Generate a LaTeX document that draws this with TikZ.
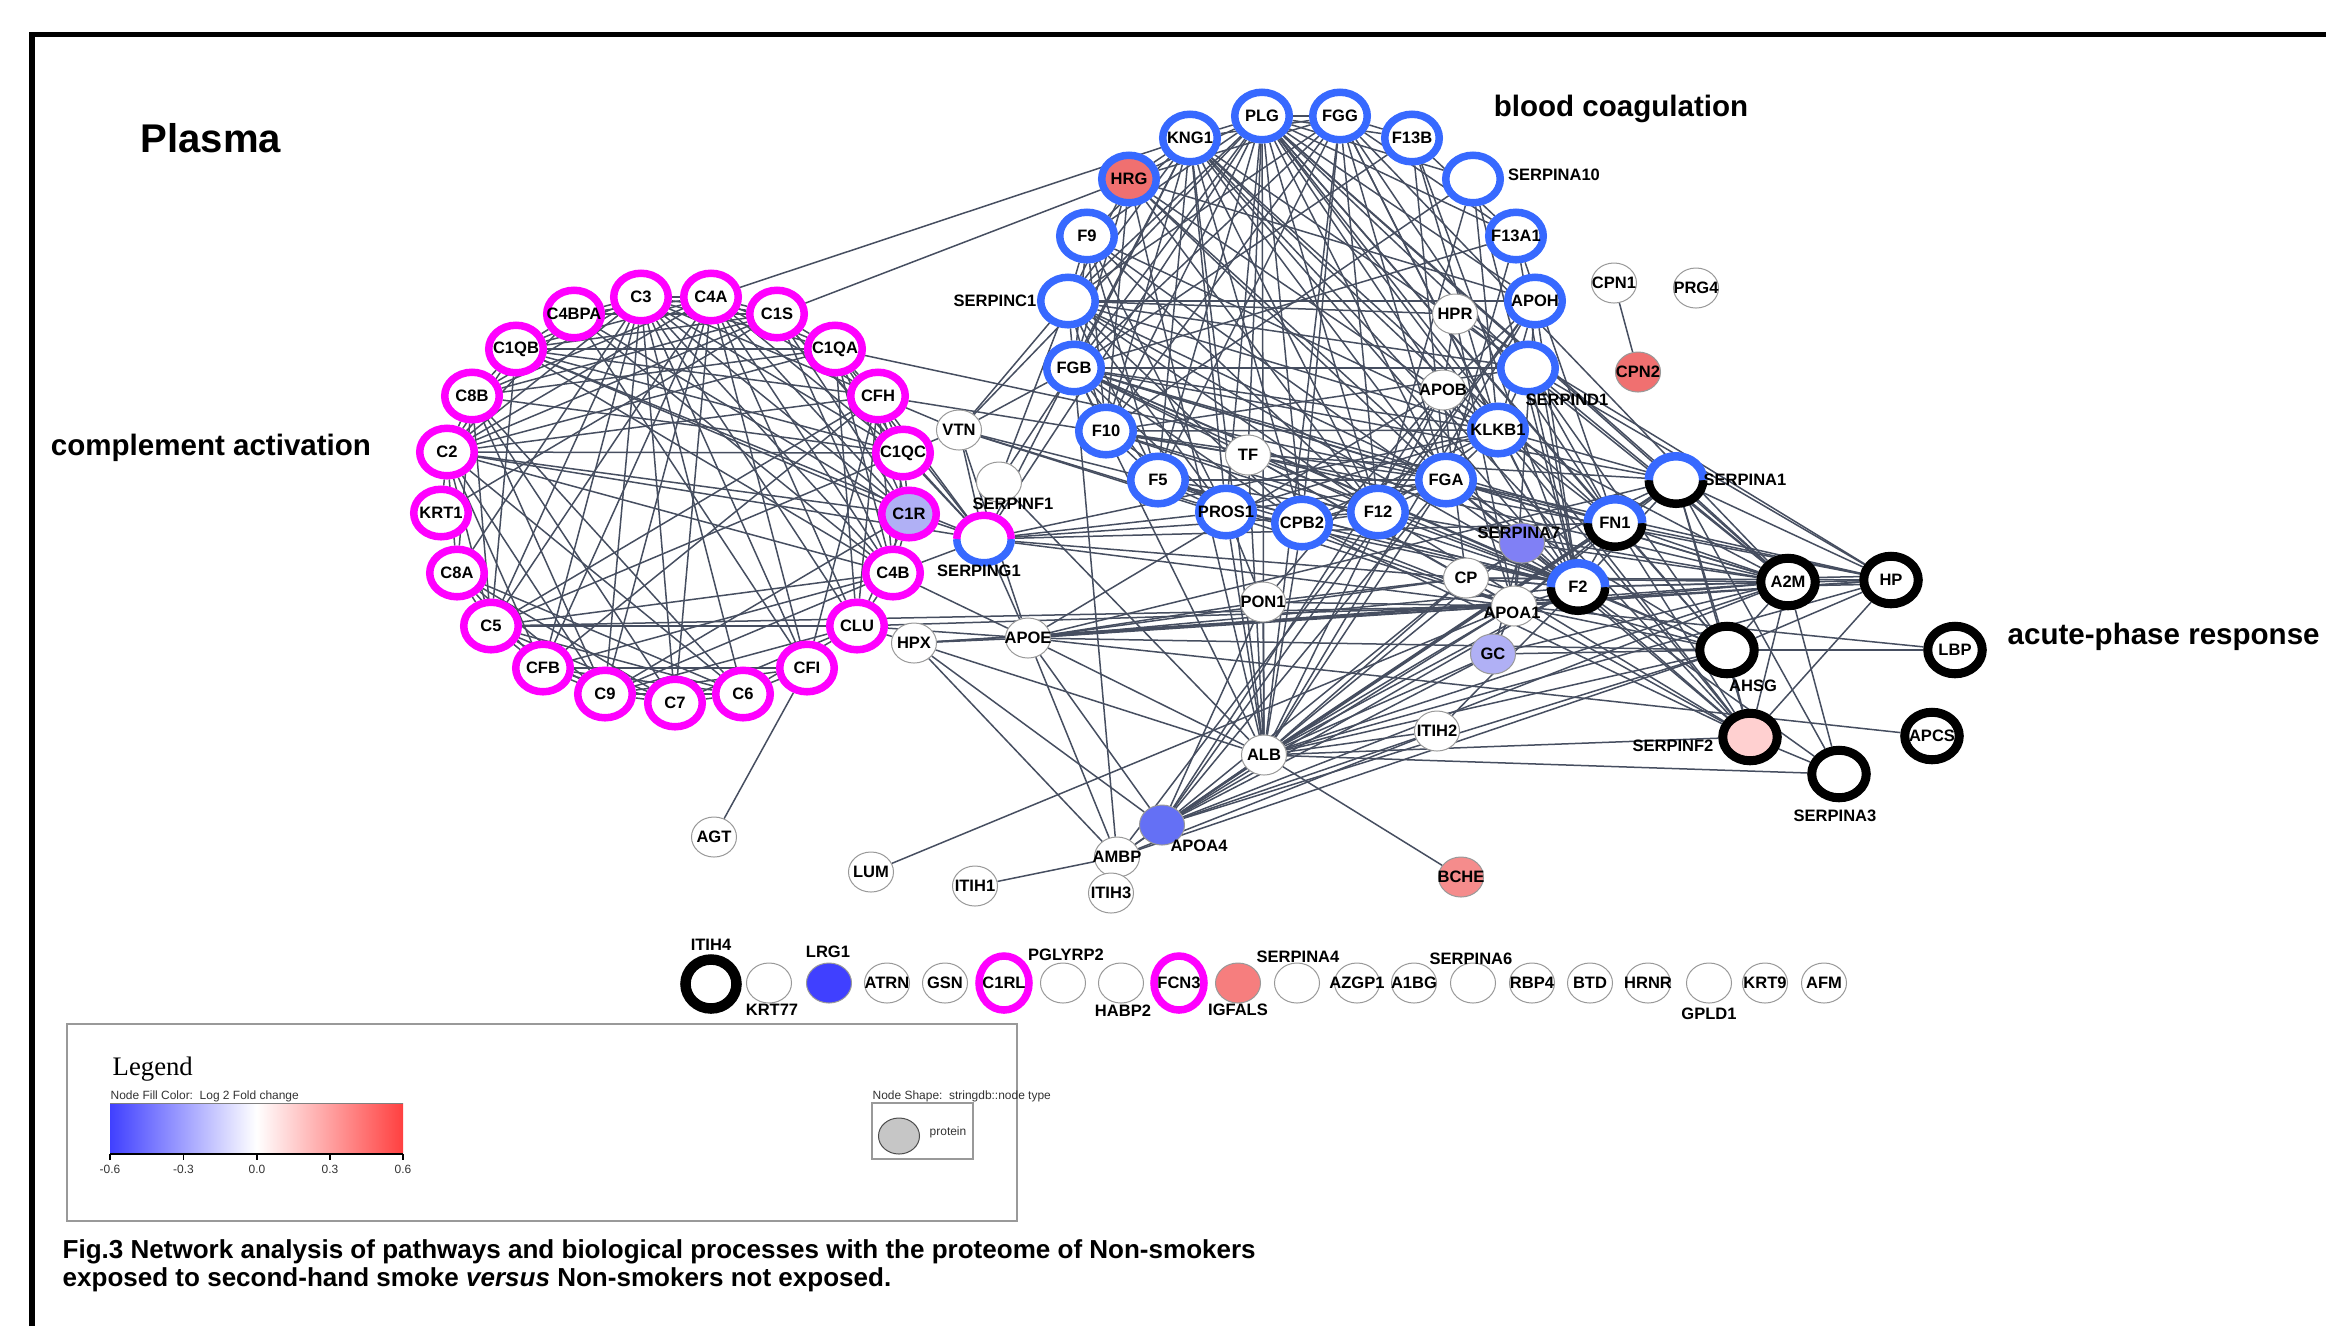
\documentclass[tikz,border=0pt]{standalone}
\usepackage{fontspec}
\setmainfont{Liberation Sans}
\newfontfamily\legendfont{Liberation Serif}
\usetikzlibrary{shapes.geometric}
\definecolor{complcol}{RGB}{255,0,255}
\definecolor{coagcol}{RGB}{55,105,255}
\definecolor{edgecol}{RGB}{70,78,96}
\definecolor{lgblue}{RGB}{64,64,255}
\definecolor{lgred}{RGB}{255,64,64}
\definecolor{upred}{RGB}{240,112,112}
\definecolor{upsalmon}{RGB}{245,140,140}
\definecolor{uppink}{RGB}{255,208,208}
\definecolor{downlav}{RGB}{176,176,245}
\definecolor{downmid}{RGB}{128,128,245}
\definecolor{downdeep}{RGB}{100,112,245}
\pgfdeclarelayer{edges}
\pgfsetlayers{edges,main}
\tikzset{prot/.style={ellipse, inner sep=0pt, minimum width=4.5mm, minimum height=4mm,
      draw=gray!80, line width=0.1mm, fill=white, font=\bfseries\fontsize{4.7}{5}\selectfont,
      execute at begin node={\hbox to 0pt\bgroup\hss}, execute at end node={\hss\egroup}},
    ringnode/.style={prot, minimum width=5.45mm, minimum height=4.75mm, line width=0.75mm},
    complring/.style={ringnode, draw=complcol},
    coagring/.style={ringnode, draw=coagcol},
    acutering/.style={ringnode, draw=black, line width=0.9mm},
    nlabel/.style={inner sep=0pt, font=\bfseries\fontsize{4.7}{5}\selectfont},
    legtext/.style={inner sep=0pt, text=black!80, font=\fontsize{3.4}{4}\selectfont},
    heading/.style={inner sep=0pt, font=\bfseries\fontsize{8.4}{10}\selectfont},
    edgeline/.style={draw=edgecol, line width=0.15mm}}
\newcommand\splitring[4]{%
  \draw[#3, line width=#4] (#1.center) ++(2.725mm,0mm)
    arc[start angle=0, end angle=-180, x radius=2.725mm, y radius=2.375mm];
  \draw[#2, line width=#4] (#1.center) ++(2.725mm,0mm)
    arc[start angle=0, end angle=180, x radius=2.725mm, y radius=2.375mm];}

\begin{document}
\begin{tikzpicture}[x=0.01cm, y=-0.01cm]
    \useasboundingbox (0,0) rectangle (2326,1326);
    \draw[line width=0.55mm] (32,1326) -- (32,34.5) -- (2326,34.5);

    \node[inner sep=0pt, font=\bfseries\fontsize{11.4}{13}\selectfont] (plasma) at (211,138) {Plasma};
    \node[heading] (complact) at (211,448) {complement activation};
    \node[heading] (bloodcoag) at (1621,109) {blood coagulation};
    \node[heading, anchor=west] (acutephase) at (2007,637) {acute-phase response};

    \foreach \n/\x/\y in {C3/641/297, C4A/711/297, C4BPA/574/314, C1S/777/314, C1QB/516/349,
        C1QA/835/349, C8B/472/396, CFH/878/396, C2/447/452, C1QC/903/453, KRT1/441/513,
        C8A/457/573, C4B/893/573, C5/491/626, CLU/857/626, CFB/543/668, CFI/807/668,
        C9/605/694, C7/675/703, C6/743/694}
      \node[complring] (\n) at (\x,\y) {\n};
    \node[complring, fill=downlav] (C1R) at (909,514) {C1R};

    \foreach \n/\x/\y in {PLG/1262/116, FGG/1340/116, KNG1/1190/138, F13B/1412/138, F9/1087/236,
        F13A1/1516/236, APOH/1535/301, FGB/1074/368, F10/1106/431, KLKB1/1498/430, F5/1158/480,
        FGA/1446/480, PROS1/1226/512, CPB2/1302/523, F12/1378/512}
      \node[coagring] (\n) at (\x,\y) {\n};
    \node[coagring, fill=upred] (HRG) at (1129,179) {HRG};
    \node[coagring] (SERPINA10) at (1473,179) {};
    \node[coagring] (SERPINC1) at (1068,301) {};
    \node[coagring] (SERPIND1) at (1528,368) {};
    \node[nlabel] (SERPINA10-l) at (1554,175) {SERPINA10};
    \node[nlabel] (SERPINC1-l) at (995,301) {SERPINC1};
    \node[nlabel] (SERPIND1-l) at (1567,400) {SERPIND1};

    \foreach \n/\x/\y in {A2M/1788/582, HP/1891/580, LBP/1955/650, APCS/1932/736}
      \node[acutering] (\n) at (\x,\y) {\n};
    \node[acutering] (AHSG) at (1727,650) {};
    \node[acutering] (SERPINA3) at (1839,774) {};
    \node[acutering, fill=uppink] (SERPINF2) at (1750,737) {};
    \node[nlabel] (AHSG-l) at (1753,686) {AHSG};
    \node[nlabel] (SERPINA3-l) at (1835,816) {SERPINA3};
    \node[nlabel] (SERPINF2-l) at (1673,746) {SERPINF2};

    \node[ringnode, draw=none] (SERPINA1) at (1676,480) {};
    \node[ringnode, draw=none] (FN1) at (1615,523) {FN1};
    \node[ringnode, draw=none] (F2) at (1578,587) {F2};
    \node[ringnode, draw=none] (SERPING1) at (984,539) {};
    \splitring{SERPINA1}{coagcol}{black}{0.85mm}
    \splitring{FN1}{coagcol}{black}{0.85mm}
    \splitring{F2}{coagcol}{black}{0.85mm}
    \splitring{SERPING1}{complcol}{coagcol}{0.75mm}
    \node[nlabel] (SERPINA1-l) at (1745,480) {SERPINA1};
    \node[nlabel] (SERPING1-l) at (979,571) {SERPING1};

    \foreach \n/\x/\y in {VTN/959/430, TF/1248/455, HPR/1455/314, APOB/1443/390, CPN1/1614/283,
        PRG4/1696/288, CP/1466/578, PON1/1263/602, HPX/914/643, APOE/1028/638, ITIH2/1437/731,
        ALB/1264/755, AMBP/1117/857, LUM/871/872, AGT/714/837, ITIH1/975/886}
      \node[prot] (\n) at (\x,\y) {\n};
    \node[prot] (ITIH3) at (1111,893) {ITIH3};
    \node[prot] (SERPINF1) at (999,482) {};
    \node[prot] (APOA1) at (1514,606) {};
    \node[prot, fill=upred] (CPN2) at (1638,372) {CPN2};
    \node[prot, fill=downmid] (SERPINA7) at (1522,543) {};
    \node[prot, fill=downlav] (GC) at (1493,654) {GC};
    \node[prot, fill=downdeep] (APOA4) at (1162,825) {};
    \node[prot, fill=upsalmon] (BCHE) at (1461,877) {BCHE};
    \node[nlabel] (SERPINF1-l) at (1013,504) {SERPINF1};
    \node[nlabel] (APOA1-l) at (1512,613) {APOA1};
    \node[nlabel] (SERPINA7-l) at (1519,533) {SERPINA7};
    \node[nlabel] (APOA4-l) at (1199,846) {APOA4};

    \node[acutering, minimum width=5.1mm, minimum height=4.9mm, line width=1.05mm] (ITIH4) at (711,984) {};
    \node[complring, minimum width=5mm, minimum height=5.4mm] (C1RL) at (1004,983) {C1RL};
    \node[complring, minimum width=5mm, minimum height=5.4mm] (FCN3) at (1179,983) {FCN3};
    \node[prot, fill=lgblue] (LRG1) at (829,983) {};
    \node[prot, fill=upsalmon!90!red] (IGFALS) at (1238,983) {};
    \foreach \n/\x in {ATRN/887, GSN/945, AZGP1/1357, A1BG/1414, RBP4/1532, BTD/1590,
        HRNR/1648, KRT9/1765, AFM/1824}
      \node[prot] (\n) at (\x,983) {\n};
    \foreach \n/\x in {KRT77/769, PGLYRP2/1063, HABP2/1121, SERPINA4/1297, SERPINA6/1473, GPLD1/1709}
      \node[prot] (\n) at (\x,983) {};
    \foreach \n/\x/\y in {ITIH4/711/945, LRG1/828/952, PGLYRP2/1066/955, SERPINA4/1298/957,
        SERPINA6/1471/959, KRT77/772/1010, HABP2/1123/1011, IGFALS/1238/1010, GPLD1/1709/1014}
      \node[nlabel] (\n-l) at (\x,\y) {\n};

    \begin{pgfonlayer}{edges}
    \foreach \a/\b in {C3/C4A, C3/C4BPA, C3/C1S, C3/C1QB, C3/C1QA, C3/C8B, C3/CFH, C3/C2, C3/C1QC,
        C3/C1R, C3/C4B, C3/C5, C3/CFB, C3/CFI, C3/C9, C3/C7, C3/C6, C3/CLU, C3/C8A,
        C4A/C4BPA, C4A/C1S, C4A/C1QA, C4A/C1QB, C4A/CFH, C4A/C1QC, C4A/C1R, C4A/C4B, C4A/C2,
        C4A/C8B, C4A/C5, C4A/CFI, C4A/CLU, C4A/C7, C4A/CFB, C4A/C9, C4BPA/C1QB, C4BPA/C1S,
        C4BPA/C4B, C4BPA/C1R, C4BPA/C2, C4BPA/CFI, C1S/C1QB, C1S/C1QA, C1S/C1R, C1S/C4B, C1S/C2,
        C1S/C1QC, C1S/C8B, C1S/KRT1, C1QB/C1QA, C1QB/C1QC, C1QB/C1R, C1QB/C4B, C1QB/C8B, C1QB/C2,
        C1QB/CFH, C1QB/C5, C1QA/C1QC, C1QA/C1R, C1QA/C4B, C1QA/C2, C1QA/CFH, C1QA/CLU, C1QA/C8B,
        C8B/C2, C8B/C8A, C8B/C5, C8B/C9, C8B/C7, C8B/C6, C8B/C1QC, CFH/C1QC, CFH/C1R, CFH/C4B,
        CFH/CFI, CFH/CLU, CFH/C2, CFH/C5, CFH/CFB, C2/C1QC, C2/C1R, C2/C4B, C2/C8A, C2/CFB,
        C2/C5, C2/C9, C2/C6, C2/KRT1, C1QC/C1R, C1QC/C4B, C1QC/C5, C1R/C4B, C1R/CLU, C1R/C9,
        C8A/C5, C8A/C9, C8A/C7, C8A/C6, C8A/CFB, C4B/CLU, C4B/CFB, C4B/C5, C4B/C9, C5/C9, C5/C7,
        C5/C6, C5/CFB, C5/CLU, CLU/C9, CLU/C7, CLU/C6, CFB/C9, CFB/C7, CFB/C6, CFB/CFI, CFI/C9,
        CFI/C6, C9/C7, C9/C6, C7/C6}
      \draw[edgeline] (\a) -- (\b);
    \foreach \a/\b in {C4A/KNG1, C1S/HRG, CFH/VTN, C1QC/VTN, C1QC/SERPING1, C1R/SERPING1,
        C4B/SERPING1, C1S/SERPING1, C1QA/SERPING1, CFH/SERPING1, CLU/APOE, CLU/HPX, CLU/APOA1,
        C4B/APOE, CFH/TF, C1QA/FGA, C5/APOA1, C2/SERPING1, AGT/CFI, C1QB/SERPING1,
        VTN/PLG, VTN/SERPINC1, VTN/FGB, VTN/F2, VTN/APOA1, VTN/PROS1, VTN/SERPING1, VTN/APOE,
        SERPINF1/FGB, SERPINF1/SERPINC1, SERPINF1/ALB, SERPING1/PLG, SERPING1/KLKB1,
        SERPING1/F12, SERPING1/KNG1, SERPING1/F2, SERPING1/APOE, SERPING1/APOA1, SERPING1/FN1,
        SERPING1/PROS1, HPX/APOE, HPX/ALB, HPX/APOA4, HPX/AMBP, HPX/APOA1, HPX/HP,
        APOE/APOA1, APOE/APOA4, APOE/ALB, APOE/APOB, APOE/PON1, APOE/CP, APOE/F2, APOE/APCS,
        APOE/AHSG, APOE/SERPINA1, APOE/AMBP, APOE/A2M, TF/ALB, TF/APOA1, TF/F2, TF/FGB, TF/PLG,
        TF/HP, TF/A2M, TF/CP, TF/SERPINA1, TF/F10, HPR/HP, HPR/APOA1, HPR/A2M, HPR/APOB,
        HPR/SERPINC1, APOB/APOA1, APOB/ALB, APOB/APOA4, APOB/PON1, APOB/CP, APOB/FN1,
        CPN1/CPN2, SERPINA7/ALB, SERPINA7/APOA1, SERPINA7/GC, SERPINA7/F2, SERPINA7/A2M,
        CP/ALB, CP/APOA1, CP/F2, CP/HP, CP/A2M, CP/AHSG, CP/SERPINA1, APOA1/ALB, APOA1/APOA4,
        APOA1/PON1, APOA1/F2, APOA1/FN1, APOA1/A2M, APOA1/HP, APOA1/AHSG, APOA1/SERPINF2,
        APOA1/SERPINA1, APOA1/GC, APOA1/APOH, APOA1/LBP, PON1/ALB, PON1/APOA4, PON1/CP,
        PON1/PROS1, GC/ALB, GC/AHSG, GC/APOA4, GC/A2M, ITIH2/ALB, ITIH2/APOA4, ITIH2/AMBP,
        ITIH2/F2, ALB/APOA4, ALB/AMBP, ALB/BCHE, ALB/SERPINA3, ALB/F2, ALB/FN1, ALB/A2M,
        ALB/AHSG, ALB/HP, ALB/SERPINA1, ALB/SERPINF2, ALB/PLG, ALB/FGA, ALB/FGB, ALB/FGG,
        ALB/HRG, ALB/KNG1, ALB/APOH, ALB/CPB2, ALB/PROS1, APOA4/AMBP, APOA4/F2, APOA4/FGA,
        APOA4/A2M, APOA4/AHSG, APOA4/APOH, APOA4/SERPINA1, APOA4/FN1, APOA4/CP, AMBP/ITIH1,
        AMBP/ITIH3, AMBP/FGB, AMBP/AHSG, AMBP/F12, LUM/APOA1}
      \draw[edgeline] (\a) -- (\b);
    \foreach \a/\b in {SERPINA1/A2M, SERPINA1/HP, SERPINA1/F2, SERPINA1/FN1, SERPINA1/AHSG,
        SERPINA1/SERPINF2, SERPINA1/SERPINA3, SERPINA1/PLG, SERPINA1/KLKB1, SERPINA1/FGB,
        FN1/A2M, FN1/HP, FN1/F2, FN1/AHSG, FN1/SERPINF2, FN1/FGA, FN1/FGB, FN1/FGG, FN1/PLG,
        FN1/F13A1, FN1/KNG1, F2/A2M, F2/HP, F2/AHSG, F2/SERPINF2, F2/SERPINA3, A2M/AHSG,
        A2M/SERPINF2, A2M/SERPINA3, A2M/PLG, A2M/KLKB1, HP/AHSG, HP/SERPINF2, HP/FGA, AHSG/LBP,
        AHSG/SERPINF2, AHSG/FGA, AHSG/PLG, SERPINF2/SERPINA3, SERPINF2/PLG, SERPINF2/KNG1,
        PLG/FGG, PLG/KNG1, PLG/HRG, PLG/F9, PLG/SERPINC1, PLG/FGB, PLG/F10, PLG/F5, PLG/PROS1,
        PLG/CPB2, PLG/F12, PLG/FGA, PLG/KLKB1, PLG/SERPIND1, PLG/APOH, PLG/F13A1, PLG/F13B,
        PLG/SERPINA10, PLG/F2, FGG/KNG1, FGG/F13B, FGG/F13A1, FGG/FGB, FGG/FGA, FGG/F2, FGG/F5,
        FGG/F10, FGG/SERPINC1, FGG/HRG, FGG/CPB2, FGG/F12, FGG/KLKB1, FGG/A2M, KNG1/HRG,
        KNG1/F9, KNG1/F12, KNG1/KLKB1, KNG1/F10, KNG1/SERPINC1, KNG1/FGB, KNG1/F2, KNG1/PROS1,
        KNG1/SERPIND1, KNG1/FGA, KNG1/F5, KNG1/CPB2, F13B/F13A1, F13B/FGB, F13B/FGA, F13B/F2,
        F13B/KLKB1, HRG/FGB, HRG/F12, HRG/SERPINC1, HRG/F2, HRG/APOH, HRG/FGA, HRG/F10,
        HRG/KLKB1, SERPINA10/F10, SERPINA10/F2, SERPINA10/KLKB1, SERPINA10/F12, F9/F10,
        F9/SERPINC1, F9/F5, F9/F12, F9/F2, F9/KLKB1, F9/FGB, F9/PROS1, F13A1/FGB, F13A1/FGA,
        F13A1/F2, SERPINC1/F10, SERPINC1/F2, SERPINC1/FGB, SERPINC1/F5, SERPINC1/F12,
        SERPINC1/KLKB1, SERPINC1/APOH, SERPINC1/SERPIND1, SERPINC1/FGA, SERPINC1/PROS1,
        SERPINC1/CPB2, APOH/F12, APOH/KLKB1, APOH/F2, APOH/APOB, FGB/FGA, FGB/SERPIND1,
        FGB/F10, FGB/F5, FGB/F2, FGB/F12, FGB/PROS1, FGB/CPB2, FGB/KLKB1, FGB/A2M, FGB/AHSG,
        SERPIND1/F2, SERPIND1/F10, SERPIND1/FN1, SERPIND1/KLKB1, SERPIND1/A2M, SERPIND1/AHSG,
        SERPIND1/HP, F10/F5, F10/F2, F10/PROS1, F10/F12, F10/KLKB1, F10/FGA, KLKB1/F12,
        KLKB1/F2, KLKB1/FGA, KLKB1/PROS1, KLKB1/CPB2, KLKB1/SERPINF2, F5/PROS1, F5/F2, F5/F12,
        F5/FGA, F5/CPB2, F5/APOA1, FGA/F2, FGA/F12, FGA/CPB2, FGA/PROS1, FGA/A2M, FGA/SERPINF2,
        PROS1/CPB2, PROS1/F2, CPB2/F12, CPB2/F2, CPB2/SERPINF2, CPB2/APOA1, F12/F2, F12/A2M,
        F12/SERPINF2}
      \draw[edgeline] (\a) -- (\b);
    \foreach \s in {-0.4mm,0.4mm}
      \draw[edgeline] ([yshift=\s]A2M.center) -- ([yshift=\s]HP.center);
    \end{pgfonlayer}

    \draw[gray!80, line width=0.12mm] (67,1024) rectangle (1017,1221);
    \node[inner sep=0pt, anchor=west, font=\legendfont\fontsize{7.6}{9}\selectfont] (legtitle) at (112,1069) {Legend};
    \node[legtext, anchor=west] (filltitle) at (110,1096) {Node Fill Color:\ \ Log 2 Fold change};
    \shade[left color=lgblue, right color=lgred, middle color=white] (110,1103) rectangle (403,1154);
    \draw[gray, line width=0.1mm] (110,1103) -- (403,1103);
    \draw[line width=0.12mm] (110,1154) -- (403,1154);
    \foreach \v/\x [count=\i] in {-0.6/110, -0.3/183.5, 0.0/257, 0.3/330, 0.6/403} {
      \draw[line width=0.12mm] (\x,1154) -- (\x,1160);
      \node[legtext] (tick\i) at (\x,1169) {\v};
    }
    \node[legtext, anchor=west] (shapetitle) at (872,1096) {Node Shape:\ \ stringdb::node type};
    \draw[gray!80, line width=0.12mm] (872,1103) rectangle (973,1159);
    \node[ellipse, inner sep=0pt, draw=gray!60!black, line width=0.1mm, fill=gray!45,
      minimum width=4.1mm, minimum height=3.6mm] (protshape) at (899,1136) {};
    \node[legtext] (prottext) at (948,1132) {protein};

    \node[inner sep=0pt, anchor=west, font=\bfseries\fontsize{7.4}{8}\selectfont] (cap1) at (62,1252)
      {Fig.3 Network analysis of pathways and biological processes with the proteome of Non-smokers};
    \node[inner sep=0pt, anchor=west, font=\bfseries\fontsize{7.4}{8}\selectfont] (cap2) at (62,1280)
      {exposed to second-hand smoke \textit{versus} Non-smokers not exposed.};
\end{tikzpicture}
\end{document}
